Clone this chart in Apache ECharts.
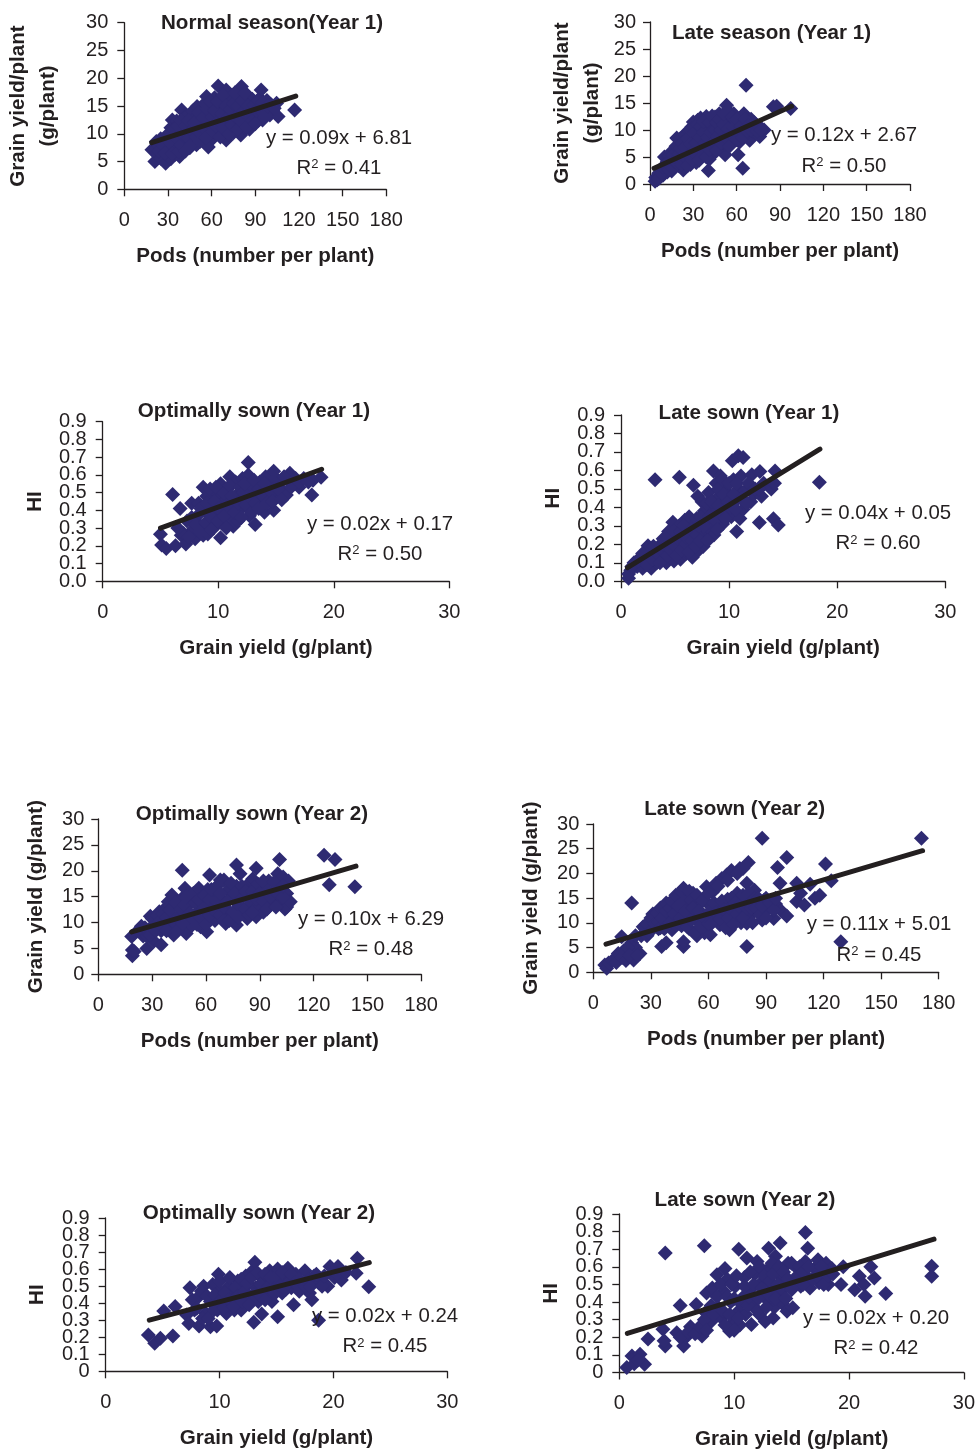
<!DOCTYPE html>
<html><head><meta charset="utf-8">
<script src="https://cdn.jsdelivr.net/npm/echarts@6/dist/echarts.min.js"></script>
<style>html,body{margin:0;padding:0;background:#fff}#c{width:978px;height:1451px}</style>
</head><body><div id="c"></div>
<script>
const normalYear1Points = [[19,7.1],[21,5],[21,7],[22,8.6],[23,6.2],[24,7.8],[25,5.6],[25,9.1],[27,6.9],[28.4,4.7],[29,8.3],[30,6.1],[30,9.8],[31,7.4],[32,5.5],[32,11.1],[33,8.8],[33,12.5],[35,6.3],[35,10.2],[36,7.7],[36,12.3],[38,9.1],[38,5.9],[39.4,14.3],[40,7.2],[40,11],[41,12.9],[43,8.5],[43,13.2],[45,10.2],[45,7.5],[46,11.9],[47,8.9],[47,14.1],[49.6,8],[49,13],[50,14.9],[50,10.5],[52,11.8],[53,9.4],[53,14],[55,15.4],[55,12.4],[56.5,16.7],[57.7,7.6],[58,13.6],[59,10.3],[60,15],[60,11.2],[62,16.5],[61,9.2],[63,13],[64.5,18.6],[65,14.8],[65,10.4],[66,12],[67,16.4],[68,9.6],[69,14],[70,17.9],[70,8.9],[71,11.6],[72,15.6],[73,13],[74,16.9],[75,10.2],[76,14.4],[77,12],[79,16.2],[80.5,18.5],[80,9.8],[81,13.6],[82,11.2],[83,15.2],[84,17],[85,12.4],[86,10.8],[87,14.2],[87,11.9],[88,16.2],[90,13.2],[90,15],[92,12.4],[93,16.4],[94,17.9],[95,12.5],[96,14.6],[98,16],[100,13.4],[101,15.2],[102,14.2],[104.6,15.5],[105.7,13.1],[117,14.3]];
const normalYear1CorePoints = [[24,6.9],[26,8.2],[28,6.5],[29,9.7],[31,8.5],[33,6.4],[34,10.8],[36,9.2],[37,6.8],[37,11.4],[39,8],[39,12.4],[41,9.6],[42,6.9],[42,11.4],[44,9.2],[44,12.4],[46,10.6],[46,8],[48,12],[49,9.4],[51,13.8],[51,10.4],[52,8.6],[54,12.8],[55,11],[56,9.3],[57,14.4],[58,12],[59,15.8],[60,13],[61,10.4],[62,14.2],[63,11.4],[64,15.8],[65,12.4],[66,9.4],[67,13.6],[68,17],[68,11],[70,15],[71,13],[72,10],[73,14.4],[74,11.6],[75,15.4],[76,17.4],[77,13],[78,10.8],[78,15],[80,12.4],[81,16],[82,14],[83,17.4],[84,11.2],[85,15],[86,13.2],[88,12.4],[89,15.2],[90,11.8],[91,14.2],[92,16],[94,14],[95,15.6],[97,13.2],[99,15],[103,14.6]];
const lateYear1Points = [[3.5,0.5],[4,1.2],[5,0.8],[6,2],[7,1.3],[8,2.8],[9,1.6],[10,5],[10,3.2],[12,2.2],[12,4.2],[13,5.2],[14,3],[15,2.4],[15,6],[16,4.4],[17,3.2],[18.5,8.5],[18,6],[19,5],[20,7.2],[20,3.4],[21,8.4],[22,4.6],[23,2.6],[23,6.4],[24,9.2],[25,8],[25,4],[26,5.6],[27,9.8],[27,7],[28,3.6],[29,10.6],[29,5.2],[30,8.4],[30,11.5],[31,6.4],[32,4],[33,9.6],[33,11.8],[34,7.2],[35,5.2],[35,12.2],[36,10],[37,8],[38,6],[39,12.5],[39,9],[40.4,2.5],[40,10.8],[41,4.6],[42,7],[43,11.8],[43,9.2],[44,5.6],[45,12.4],[46,8],[47,10.4],[48,13],[48,6.6],[50,9.2],[50,11.6],[52,5.4],[52,7.4],[53,14.6],[53,12.6],[55,9.8],[56,11.4],[56,7.6],[58,13],[59,8.8],[60,10.6],[61,5.4],[62,12],[62,7.8],[64.2,2.9],[65,13],[65,9.6],[66.5,18.3],[67,11.2],[69,8.1],[70,12],[71,9.8],[73,11],[76,8.8],[76,10.6],[79,10],[85.4,14.3],[87.7,14.4],[97.4,14]];
const lateYear1CorePoints = [[6,1],[8,2],[9,3.2],[11,3.6],[13,2.6],[14,4.2],[16,3],[16,5.4],[17,4.2],[18,7],[19,3.8],[20,5.6],[21,6.6],[22,7.6],[22,3.6],[24,5],[24,6.8],[26,8.4],[26,3.4],[27,5.4],[28,7.4],[28,10],[29,4.4],[30,6],[31,9.6],[32,5.4],[32,7.6],[33,11],[34,4.4],[34,8.6],[35,10.6],[36,6.2],[37,9.6],[37,11.6],[38,7.6],[39,5],[40,8.6],[41,11.4],[41,6.4],[42,9.6],[43,12.6],[44,7.8],[45,10],[46,6.2],[46,11.4],[47,8.8],[48,12],[49,10],[49,7.6],[51,11],[51,13],[52,8.6],[54,10.2],[54,13.6],[55,7],[57,9],[57,12.4],[58,10.4],[60,12],[60,8.2],[61,9.6],[63,10.8],[64,8.6],[66,12],[67,9.8],[68,10.8],[70,10],[72,11.4],[74,9.8],[77,10]];
const optimalYear1HiPoints = [[5,0.265],[5.1,0.205],[5.5,0.185],[6.05,0.49],[6.3,0.2],[6.7,0.41],[6.8,0.26],[7,0.27],[7.2,0.21],[7.3,0.34],[7.7,0.44],[7.8,0.29],[8,0.24],[8.2,0.37],[8.3,0.44],[8.5,0.31],[8.7,0.53],[8.7,0.26],[8.9,0.4],[9,0.48],[9.1,0.267],[9.2,0.34],[9.3,0.52],[9.5,0.43],[9.6,0.3],[9.8,0.37],[10,0.49],[10.2,0.245],[10.2,0.55],[10.3,0.41],[10.4,0.33],[10.7,0.46],[10.8,0.52],[11,0.59],[11,0.37],[11.3,0.31],[11.3,0.44],[11.5,0.56],[11.7,0.34],[11.8,0.5],[12,0.41],[12.1,0.58],[12.3,0.46],[12.6,0.67],[12.6,0.6],[12.7,0.37],[12.9,0.53],[13,0.43],[13.2,0.32],[13.3,0.49],[13.6,0.56],[13.8,0.45],[14,0.39],[14.1,0.59],[14.3,0.5],[14.5,0.54],[14.8,0.4],[14.8,0.62],[15,0.47],[15.3,0.56],[15.6,0.51],[15.9,0.487],[16,0.58],[16.2,0.61],[16.6,0.55],[17,0.53],[17.4,0.58],[18.1,0.487],[18.2,0.57],[18.9,0.587]];
const optimalYear1HiCorePoints = [[6.5,0.3],[7.5,0.25],[7.7,0.36],[8,0.32],[8.4,0.28],[8.5,0.41],[8.9,0.33],[9,0.44],[9.3,0.37],[9.4,0.29],[9.7,0.45],[9.8,0.53],[10,0.34],[10,0.41],[10.5,0.37],[10.5,0.5],[10.7,0.3],[10.9,0.42],[11,0.54],[11.2,0.48],[11.4,0.39],[11.7,0.44],[11.9,0.53],[12,0.36],[12.2,0.5],[12.3,0.55],[12.4,0.43],[12.8,0.47],[12.9,0.39],[13.1,0.57],[13.2,0.44],[13.5,0.52],[13.5,0.41],[13.9,0.48],[14,0.55],[14.2,0.44],[14.6,0.5],[14.7,0.45],[15,0.58],[15.2,0.52],[15.5,0.46],[15.7,0.59],[16.3,0.53],[16.7,0.58],[17,0.56],[17.8,0.56]];
const lateYear1HiPoints = [[0.7,0.016],[0.7,0.04],[0.9,0.06],[1.2,0.1],[1.5,0.08],[1.8,0.13],[2,0.07],[2.2,0.1],[2.5,0.193],[2.5,0.12],[2.8,0.07],[3,0.15],[3.15,0.55],[3.3,0.1],[3.5,0.19],[3.7,0.13],[3.9,0.23],[4,0.16],[4.2,0.1],[4.4,0.27],[4.5,0.2],[4.7,0.14],[4.8,0.32],[4.9,0.11],[5,0.24],[5.2,0.17],[5.4,0.563],[5.4,0.3],[5.5,0.12],[5.7,0.21],[5.9,0.33],[6,0.15],[6.2,0.26],[6.3,0.35],[6.4,0.18],[6.6,0.13],[6.7,0.52],[6.7,0.3],[6.8,0.22],[7,0.34],[7.1,0.46],[7.2,0.17],[7.4,0.27],[7.5,0.43],[7.6,0.188],[7.7,0.38],[7.8,0.25],[8,0.33],[8.1,0.48],[8.3,0.28],[8.55,0.597],[8.5,0.4],[8.6,0.25],[8.8,0.53],[9,0.36],[9.1,0.46],[9.2,0.57],[9.4,0.31],[9.5,0.42],[9.7,0.51],[9.9,0.38],[10,0.47],[10.2,0.35],[10.3,0.653],[10.4,0.55],[10.7,0.27],[10.7,0.44],[10.85,0.68],[10.9,0.5],[11,0.34],[11.1,0.57],[11.3,0.67],[11.3,0.39],[11.5,0.49],[12,0.43],[12.1,0.576],[12.3,0.47],[12.8,0.318],[12.85,0.594],[13,0.46],[13.2,0.53],[13.9,0.5],[14.1,0.338],[14.25,0.597],[14.2,0.53],[14.55,0.305],[18.35,0.536]];
const lateYear1HiCorePoints = [[1,0.08],[1.6,0.11],[2,0.15],[2.4,0.09],[2.9,0.12],[3,0.19],[3.4,0.15],[3.6,0.1],[3.8,0.17],[4.1,0.19],[4.3,0.14],[4.3,0.24],[4.6,0.17],[4.9,0.27],[5,0.19],[5.1,0.14],[5.3,0.23],[5.5,0.27],[5.6,0.17],[5.8,0.3],[6,0.2],[6,0.24],[6.3,0.16],[6.5,0.28],[6.6,0.22],[6.9,0.19],[7,0.25],[7.2,0.3],[7.3,0.22],[7.4,0.35],[7.7,0.3],[7.9,0.42],[8,0.22],[8.2,0.35],[8.4,0.43],[8.7,0.33],[8.9,0.28],[9,0.41],[9,0.5],[9.3,0.36],[9.4,0.55],[9.5,0.47],[9.7,0.34],[9.9,0.43],[10,0.53],[10.1,0.4],[10.4,0.47],[10.6,0.39],[10.7,0.53],[11.2,0.45],[11.6,0.42],[11.8,0.53],[12.4,0.5],[12.8,0.5]];
const optimalYear2Points = [[18.6,7.3],[19,3.6],[19,4.7],[20,4.4],[24,9.3],[25,7.4],[27,5],[28,8.6],[29,11.2],[30,9],[31,6.4],[32,10.2],[34,12.1],[35,5.7],[35,8.4],[37,10.4],[38,13],[40,9.2],[41,15.3],[41,11.2],[42,7.6],[44,13.2],[45,9.8],[46.8,20.1],[47,14.8],[48.3,16.6],[49,7.9],[49,11.6],[51,13.6],[52,9.4],[53,15.6],[55,12],[56,16.6],[57,9.2],[58,14],[60.4,8.2],[60,11.2],[61,16.4],[62,19.2],[63,13],[65,10.4],[65,15.4],[67,12.2],[68,18.2],[69,14.4],[70,18.2],[71,9.8],[72,16.2],[73,12],[75,14.6],[77,9.5],[77,21.1],[77,17],[79,19.4],[79,12.4],[81,15.4],[83,10.8],[84,17.6],[85,13.4],[86,18.4],[87,15.6],[88,20.5],[88,11.1],[90,13],[91,17],[92,12],[93,15],[95,18],[96,13.4],[97,16],[99,14.6],[101,22.2],[100,19.4],[101,17],[102,14.4],[103,18.8],[104,12.6],[105,13],[105,15.6],[106,18],[107,14],[125.8,23],[128.7,17.3],[131.9,22.2],[143,16.9]];
const optimalYear2CorePoints = [[22,8.4],[26,9],[27,7.4],[29,7.6],[30,10.8],[32,8.4],[33,11.4],[34,10.2],[36,9.2],[36,11.6],[38,8.4],[38,11],[39,14],[40,12.4],[42,10.2],[43,13.8],[44,8.4],[44,11],[46,12.6],[47,9.8],[48,13.4],[49,15],[50,10.4],[51,11.8],[53,10.6],[54,13.8],[55,9.6],[56,14.4],[57,11],[59,12.8],[59,15.2],[60,9.6],[62,14.4],[62,11.4],[63,16.4],[64,12.6],[66,14],[66,17],[68,11.4],[68,15.6],[70,10.4],[70,13],[72,14],[73,10.4],[74,17.6],[75,12],[76,15.6],[78,13.6],[78,11],[80,17],[80,14.8],[82,12.6],[82,16],[84,11.4],[84,14.4],[86,16],[86,12],[88,14.6],[89,17.4],[90,15.6],[92,14],[92,18],[94,12.6],[94,16],[96,15],[98,17.8],[99,13],[100,15.6],[103,15],[103,17]];
const lateYear2Points = [[6,1.5],[7,0.8],[8,1.9],[10,2.4],[12,2],[13,3.8],[14.8,7.2],[15,3],[17,2.4],[20,14],[20,6],[21,2.5],[22,5],[24.3,3.8],[25,7.4],[27,8.8],[28,7.4],[29,10.2],[31,9],[31,11.8],[33,10.4],[34,8.8],[35.6,5.2],[36,12.8],[37,10.6],[38,6],[39,13.8],[40,11],[41,8.6],[42,14.8],[43,12.4],[44,9.8],[45,15.6],[46,13.2],[47,5.2],[47,17],[47,6.2],[48,10.8],[49,14.4],[50,8.8],[51,12],[52,16],[54,7.4],[54,13.4],[55,10],[57,11.8],[58,8],[59,17.3],[60,13.8],[61,7.6],[62,16.2],[63,10.6],[64,18],[65,13],[66,9.6],[67,19],[68,12],[69.5,19.7],[70,14.8],[71,8.6],[72,20.6],[73,11],[74,13.4],[75,16],[76.4,21],[77,10],[78,12.8],[79,15],[80.8,22.2],[80,5.2],[80,9.9],[80,18],[82,11.6],[83,14],[84,16.6],[86,12.4],[88,27.1],[88,10.6],[89,14.6],[91,12.8],[94,10.9],[95,13.8],[96,21.2],[97.3,18],[98,12.4],[100.8,23.2],[100.8,11.4],[106,18],[106,14.3],[108,16],[110,13.6],[113,17.8],[115.5,15],[118,15.6],[121,21.9],[124,18.5],[129,6.2],[171,27.1]];
const lateYear2CorePoints = [[16,4.4],[18,5],[19,3.4],[22,7.4],[23,3.4],[26,9.2],[28,9.8],[29,8],[30,11],[32,9.8],[33,12],[34,10.2],[35,9],[35,13],[36,11],[37,8.8],[38,12.4],[38,14],[40,13],[40,10],[41,14.4],[42,11.8],[43,9.6],[43,15.6],[44,13.4],[45,11],[46,9.4],[46,16.4],[47,14.2],[48,12.4],[49,9.2],[50,16.4],[51,10.6],[51,14.6],[52,13],[53,8],[54,15.6],[55,12.4],[56,9.2],[57,14.6],[58,11],[60,9.8],[60,16],[61,12.4],[62,10],[63,14],[64,12],[65,17.4],[66,10.8],[67,14.4],[68,12.6],[69,9],[70,18.6],[70,11],[71,13],[72,15],[73,9.6],[74,14],[75,20],[75,11.8],[76,13.4],[78,21],[78,15.6],[78,11],[80,13],[81,16],[82,13],[83,10],[84,15],[85,13],[86,15],[87,11.6],[88,13.4],[90,11],[90,15],[92,14],[94,12.6],[95,15]];
const optimalYear2HiPoints = [[3.75,0.213],[4.3,0.164],[4.8,0.194],[5.1,0.354],[5.9,0.207],[6.1,0.38],[7.1,0.33],[7.3,0.28],[7.4,0.49],[7.8,0.36],[8.2,0.266],[8.2,0.44],[8.6,0.5],[8.8,0.34],[9.2,0.262],[9.2,0.41],[9.4,0.51],[9.75,0.266],[9.8,0.36],[9.9,0.57],[10,0.47],[10.3,0.4],[10.6,0.34],[10.8,0.5],[11.1,0.44],[11.3,0.36],[11.6,0.53],[11.7,0.4],[11.9,0.36],[12.1,0.49],[12.3,0.56],[12.6,0.44],[12.9,0.59],[13,0.288],[13.1,0.64],[13.2,0.49],[13.4,0.41],[13.7,0.337],[13.8,0.54],[14.1,0.46],[14.4,0.59],[14.6,0.41],[14.8,0.52],[15.1,0.32],[15.1,0.6],[15.5,0.46],[15.8,0.54],[16,0.605],[16.3,0.49],[16.5,0.39],[16.7,0.57],[17.2,0.5],[17.5,0.59],[17.9,0.46],[18.1,0.42],[18.3,0.56],[18.7,0.3],[18.7,0.52],[19.5,0.5],[19.7,0.615],[20.1,0.55],[20.4,0.615],[20.7,0.536],[22,0.575],[22.1,0.663],[23.1,0.497]];
const optimalYear2HiCorePoints = [[7.6,0.42],[8,0.37],[8.5,0.31],[8.4,0.47],[8.9,0.44],[9,0.31],[9.5,0.36],[9.6,0.45],[10,0.41],[10,0.53],[10.4,0.37],[10.5,0.46],[10.8,0.42],[10.9,0.55],[11.2,0.38],[11.4,0.49],[11.6,0.44],[11.9,0.54],[12,0.41],[12.2,0.47],[12.4,0.52],[12.6,0.39],[12.8,0.55],[13,0.45],[13.3,0.58],[13.5,0.45],[13.6,0.51],[14,0.42],[14,0.57],[14.3,0.5],[14.5,0.55],[14.9,0.46],[15,0.56],[15.3,0.5],[15.5,0.58],[15.8,0.48],[16,0.52],[16.3,0.57],[16.6,0.52],[17,0.54],[17,0.47],[17.5,0.5],[17.8,0.54],[18,0.5],[18.5,0.57],[19,0.5],[19.2,0.56],[20.3,0.57],[21.1,0.58]];
const lateYear2HiPoints = [[0.65,0.028],[1.1,0.094],[1.3,0.05],[1.8,0.104],[2.2,0.047],[2.5,0.19],[3.8,0.245],[4,0.678],[4,0.15],[3.9,0.18],[5,0.226],[5.3,0.38],[5.6,0.15],[5.8,0.2],[6.2,0.26],[6.7,0.386],[6.8,0.23],[7.2,0.207],[7.4,0.72],[7.5,0.34],[7.6,0.452],[8,0.29],[8.1,0.48],[8.5,0.555],[8.6,0.37],[8.9,0.31],[9.1,0.46],[9.2,0.59],[9.4,0.53],[9.6,0.235],[9.7,0.4],[10,0.29],[10.1,0.49],[10.4,0.7],[10.4,0.35],[10.5,0.27],[10.8,0.43],[10.9,0.54],[11.1,0.65],[11,0.33],[11.4,0.47],[11.5,0.273],[11.6,0.38],[11.8,0.56],[12,0.63],[12.2,0.33],[12.3,0.44],[12.5,0.52],[12.7,0.29],[12.9,0.41],[13,0.706],[13,0.59],[13.2,0.49],[13.4,0.31],[13.5,0.37],[13.6,0.66],[13.8,0.45],[14,0.735],[14,0.55],[14.2,0.39],[14.4,0.5],[14.6,0.348],[14.7,0.62],[15.1,0.367],[15.2,0.52],[15.5,0.59],[15.8,0.49],[16.2,0.795],[16.2,0.63],[16.4,0.706],[16.4,0.54],[16.6,0.48],[17,0.59],[17.3,0.64],[17.4,0.51],[17.8,0.56],[18,0.62],[18.2,0.5],[18.5,0.59],[19.3,0.5],[19.5,0.6],[20.5,0.47],[20.9,0.546],[21.4,0.433],[21.3,0.5],[21.9,0.6],[22.2,0.537],[23.2,0.448],[27.2,0.603],[27.2,0.546]];
const lateYear2HiCorePoints = [[1.6,0.07],[5.3,0.2],[6,0.23],[6.6,0.22],[7,0.26],[7.4,0.3],[7.6,0.24],[8,0.38],[8.2,0.33],[8.5,0.43],[8.8,0.5],[9,0.35],[9.2,0.27],[9.4,0.43],[9.6,0.33],[9.8,0.5],[10,0.24],[10,0.42],[10.2,0.55],[10.3,0.31],[10.6,0.39],[10.9,0.49],[11.2,0.38],[11.3,0.43],[11.4,0.57],[11.7,0.5],[12,0.35],[12.1,0.42],[12.2,0.6],[12.4,0.48],[12.6,0.55],[12.8,0.37],[13,0.44],[13.1,0.52],[13.3,0.62],[13.4,0.56],[13.6,0.42],[13.8,0.5],[13.9,0.6],[14.2,0.47],[14.3,0.57],[14.5,0.42],[14.7,0.53],[15,0.47],[15,0.62],[15.3,0.5],[15.5,0.55],[15.7,0.6],[16,0.5],[16,0.57],[16.5,0.6],[16.8,0.53],[17.2,0.55],[17.6,0.6],[17.8,0.5],[18.2,0.55],[18.6,0.56]];

const trendNormalYear1 = [[18.8,8.4],[117.8,16.8]];
const trendLateYear1 = [[2.8,2.9],[98,14.4]];
const trendOptimalYear1Hi = [[5,0.3],[18.95,0.632]];
const trendLateYear1Hi = [[0.6,0.074],[18.4,0.715]];
const trendOptimalYear2 = [[18.6,8.2],[143.6,20.9]];
const trendLateYear2 = [[6.6,5.7],[171.6,24.6]];
const trendOptimalYear2Hi = [[3.83,0.3],[23.15,0.638]];
const trendLateYear2Hi = [[0.7,0.222],[27.4,0.757]];

const INK = '#231f20', MARK = '#2e2a72', FONT = 'Liberation Sans';
const POD_LABEL = 'Pods (number per plant)', GY_LABEL = 'Grain yield (g/plant)';
const panels = [
 {t:'Normal season(Year 1)',tp:[272,23],eq:'y = 0.09x + 6.81',r:'0.41',ep:[339,138,168],g:[124.3,22.7,262,166.6],kind:'pods',yn:'Grain yield/plant\n(g/plant)',yg:91,pts:normalYear1Points.concat(normalYear1CorePoints),tr:trendNormalYear1,xm:21,ym:16},
 {t:'Late season (Year 1)',tp:[771.5,33],eq:'y = 0.12x + 2.67',r:'0.50',ep:[844,135,166],g:[650,22,260,162],kind:'pods',yn:'Grain yield/plant\n(g/plant)',yg:73,pts:lateYear1Points.concat(lateYear1CorePoints),tr:trendLateYear1,xm:21,ym:14},
 {t:'Optimally sown (Year 1)',tp:[254,411],eq:'y = 0.02x + 0.17',r:'0.50',ep:[380,524,554],g:[102.7,421.7,346.6,159.6],kind:'gy',yn:'HI',yg:67,pts:optimalYear1HiPoints.concat(optimalYear1HiCorePoints),tr:trendOptimalYear1Hi,xm:21,ym:16},
 {t:'Late sown (Year 1)',tp:[749,413.7],eq:'y = 0.04x + 0.05',r:'0.60',ep:[878,513.7,543.7],g:[621,415,324.3,166.3],kind:'gy',yn:'HI',yg:68,pts:lateYear1HiPoints.concat(lateYear1HiCorePoints),tr:trendLateYear1Hi,xm:21,ym:16},
 {t:'Optimally sown (Year 2)',tp:[252,814.3],eq:'y = 0.10x + 6.29',r:'0.48',ep:[371,919,949.5],g:[98.3,819,323,155.3],kind:'pods',yn:'Grain yield (g/plant)',yg:61.6,pts:optimalYear2Points.concat(optimalYear2CorePoints),tr:trendOptimalYear2,xm:21,ym:14},
 {t:'Late sown (Year 2)',tp:[734.7,809.3],eq:'y = 0.11x + 5.01',r:'0.45',ep:[879,924,955],g:[593.3,824,345.4,148.3],kind:'pods',yn:'Grain yield (g/plant)',yg:62,pts:lateYear2Points.concat(lateYear2CorePoints),tr:trendLateYear2,xm:21,ym:14},
 {t:'Optimally sown (Year 2)',tp:[259,1213.7],eq:'y = 0.02x + 0.24',r:'0.45',ep:[385,1316.7,1346.7],g:[105.7,1218,341.6,153.3],kind:'gy2',yn:'HI',yg:68,pts:optimalYear2HiPoints.concat(optimalYear2HiCorePoints),tr:trendOptimalYear2Hi,xm:21,ym:16},
 {t:'Late sown (Year 2)',tp:[745,1200.3],eq:'y = 0.02x + 0.20',r:'0.42',ep:[876,1318,1348.5],g:[619.3,1214,345,159.3],kind:'gy2',yn:'HI',yg:67.6,pts:lateYear2HiPoints.concat(lateYear2HiCorePoints),tr:trendLateYear2Hi,xm:21,ym:16}
];
const TICK = 20, BOLD = 20.6, EQ = 20.4;
const axisLine = {lineStyle:{color:INK,width:1.3}};
const tick = {length:7,lineStyle:{color:INK,width:1.3}};
const grid=[],xAxis=[],yAxis=[],series=[],title=[],extraY=[];
panels.forEach((p,i)=>{
  const isPods = p.kind==='pods';
  const fmt = v=>isPods?String(v):(p.kind==='gy2'&&v===0?'0':Number(v).toFixed(1));
  grid.push({left:p.g[0],top:p.g[1],width:p.g[2],height:p.g[3]});
  xAxis.push({gridIndex:i,type:'value',min:0,max:isPods?180:30,interval:isPods?30:10,splitLine:{show:false},
    axisLine,axisTick:tick,axisLabel:{color:INK,fontSize:TICK,fontFamily:FONT,margin:p.xm,hideOverlap:false,showMinLabel:true,showMaxLabel:true},
    name:isPods?POD_LABEL:GY_LABEL,nameLocation:'middle',nameGap:67,
    nameTextStyle:{color:INK,fontFamily:FONT,fontWeight:'bold',fontSize:BOLD,verticalAlign:'middle'}});
  yAxis.push({gridIndex:i,type:'value',position:'left',min:0,max:isPods?30:0.9,interval:isPods?5:0.1,splitLine:{show:false},
    axisLine:{show:true,...axisLine},axisTick:{show:true,...tick},
    axisLabel:{color:INK,fontSize:TICK,fontFamily:FONT,margin:p.ym,hideOverlap:false,
      showMinLabel:isPods,showMaxLabel:isPods,formatter:fmt},
    name:p.yn,nameLocation:'middle',nameGap:p.yg,nameRotate:90,
    nameTextStyle:{color:INK,fontFamily:FONT,fontWeight:'bold',fontSize:BOLD,lineHeight:30,verticalAlign:'middle',align:'center'}});
  if(!isPods){
    // The 0.1-step labels sit closer than ECharts' overlap guard allows, so the axis ends get their own pass.
    extraY.push({gridIndex:i,type:'value',position:'left',min:0,max:0.9,interval:0.9,splitLine:{show:false},
      axisLine:{show:false},axisTick:{show:true,...tick},
      axisLabel:{color:INK,fontSize:TICK,fontFamily:FONT,margin:p.ym,formatter:fmt,showMinLabel:true,showMaxLabel:true}});
  }
  series.push({type:'scatter',xAxisIndex:i,yAxisIndex:i,data:p.pts,symbol:'diamond',symbolSize:15,itemStyle:{color:MARK,opacity:1},silent:true,z:2,clip:false});
  series.push({type:'line',xAxisIndex:i,yAxisIndex:i,data:p.tr,symbol:'none',lineStyle:{color:INK,width:5,cap:'round'},silent:true,z:3,clip:false});
  title.push({text:p.t,left:p.tp[0],top:p.tp[1],textAlign:'center',textVerticalAlign:'middle',padding:0,
    textStyle:{color:INK,fontFamily:FONT,fontWeight:'bold',fontSize:BOLD}});
  title.push({text:p.eq,left:p.ep[0],top:p.ep[1],textAlign:'center',textVerticalAlign:'middle',padding:0,
    textStyle:{color:INK,fontFamily:FONT,fontWeight:'normal',fontSize:EQ}});
  title.push({text:'R{s|2} = '+p.r,left:p.ep[0],top:p.ep[2],textAlign:'center',textVerticalAlign:'middle',padding:0,
    textStyle:{color:INK,fontFamily:FONT,fontWeight:'normal',fontSize:EQ,
      rich:{s:{fontSize:13,fontFamily:FONT,color:INK,verticalAlign:'top',padding:[0,0,6,0]}}}});
});
const chart = echarts.init(document.getElementById('c'),null,{renderer:'canvas'});
chart.setOption({animation:false,backgroundColor:'#fff',textStyle:{fontFamily:FONT},title,grid,xAxis,yAxis:yAxis.concat(extraY),series,tooltip:{show:false}});
</script></body></html>
